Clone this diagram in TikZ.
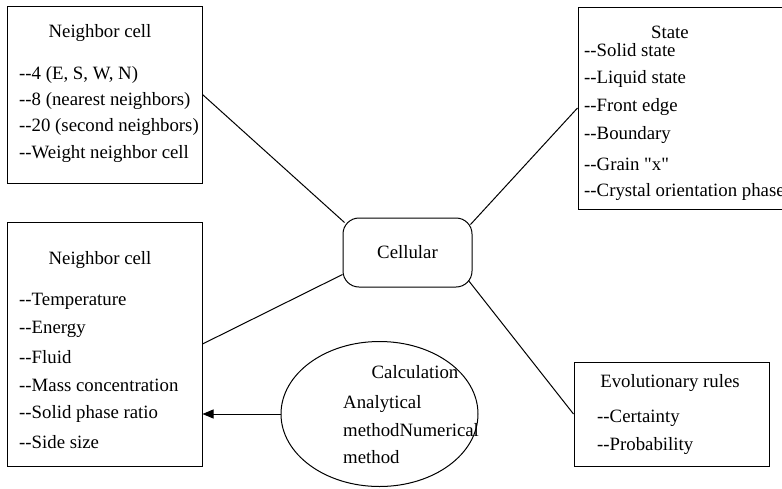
\documentclass[tikz,border=0pt]{standalone}
\usepackage{fontspec}
\setmainfont{Liberation Serif}
\usetikzlibrary{shapes.geometric,arrows.meta}
\newcommand\dd{-\kern0pt-\kern0pt}
\begin{document}
\begin{tikzpicture}[x=1pt,y=-1pt,
  box/.style={draw,line width=1pt,inner sep=0pt},
  txt/.style={anchor=west,inner sep=0pt,font=\fontsize{18.8}{22}\selectfont},
  ttl/.style={anchor=center,inner sep=0pt,font=\fontsize{18.8}{22}\selectfont},
  conn/.style={line width=1pt}]
\useasboundingbox (0,0) rectangle (782,488);
\clip (0,0) rectangle (782,488);
% box 1
\node[box,minimum width=195pt,minimum height=177pt] (b1) at (104.5,94.5) {};
\node[ttl] (b1t) at (100,33) {Neighbor cell};
\node[txt] (b1a) at (19,75) {\dd4 (E, S, W, N)};
\node[txt] (b1b) at (19,101) {\dd8 (nearest neighbors)};
\node[txt] (b1c) at (19,127) {\dd20 (second neighbors)};
\node[txt] (b1d) at (19,154) {\dd Weight neighbor cell};
% state box
\node[box,minimum width=240pt,minimum height=202pt] (b2) at (698,108) {};
\node[ttl] (b2t) at (670,32) {State};
\node[txt] (b2a) at (584,50) {\dd Solid state};
\node[txt] (b2b) at (584,79) {\dd Liquid state};
\node[txt] (b2c) at (584,107) {\dd Front edge};
\node[txt] (b2d) at (584,135) {\dd Boundary};
\node[txt] (b2e) at (584,164) {\dd Grain \textquotedbl x\textquotedbl};
\node[txt] (b2f) at (584,192) {\dd Crystal orientation phase};
% box 3
\node[box,minimum width=195pt,minimum height=244pt] (b3) at (104.5,344) {};
\node[ttl] (b3t) at (100,260) {Neighbor cell};
\node[txt] (b3a) at (19,301) {\dd Temperature};
\node[txt] (b3b) at (19,329) {\dd Energy};
\node[txt] (b3c) at (19,357) {\dd Fluid};
\node[txt] (b3d) at (19,385) {\dd Mass concentration};
\node[txt] (b3e) at (19,414) {\dd Solid phase ratio};
\node[txt] (b3f) at (19,442) {\dd Side size};
% evolutionary rules
\node[box,minimum width=195pt,minimum height=104pt] (b4) at (671.5,414) {};
\node[ttl] (b4t) at (670,383) {Evolutionary rules};
\node[txt] (b4a) at (597,418) {\dd Certainty};
\node[txt] (b4b) at (597,446) {\dd Probability};
% cellular
\node[draw,line width=1pt,rounded corners=16pt,minimum width=129pt,minimum height=69pt,inner sep=0pt,font=\fontsize{18.8}{22}\selectfont] (cell) at (407.5,252.5) {Cellular};
% ellipse
\node[draw,line width=1pt,ellipse,minimum width=197pt,minimum height=145pt,inner sep=0pt] (ell) at (379.5,414) {};
\node[ttl] (ellt) at (415,372) {Calculation};
\node[txt] (ella) at (343,404) {Analytical};
\node[txt] (ellb) at (343,430) {methodNumerical};
\node[txt] (ellc) at (343,457) {method};
% connectors
\draw[conn] (b1.east) -- ([shift={(2,5)}]cell.north west);
\draw[conn] (b2.west) -- ([shift={(-2,7)}]cell.north east);
\draw[conn] (b3.east) -- ([shift={(0,-13)}]cell.south west);
\draw[conn] ([shift={(-4,-7)}]cell.south east) -- (b4.west);
\draw[conn,-{Triangle[length=11pt,width=9pt]}] (ell.west) -- (ell.west -| b3.east);
\end{tikzpicture}
\end{document}
